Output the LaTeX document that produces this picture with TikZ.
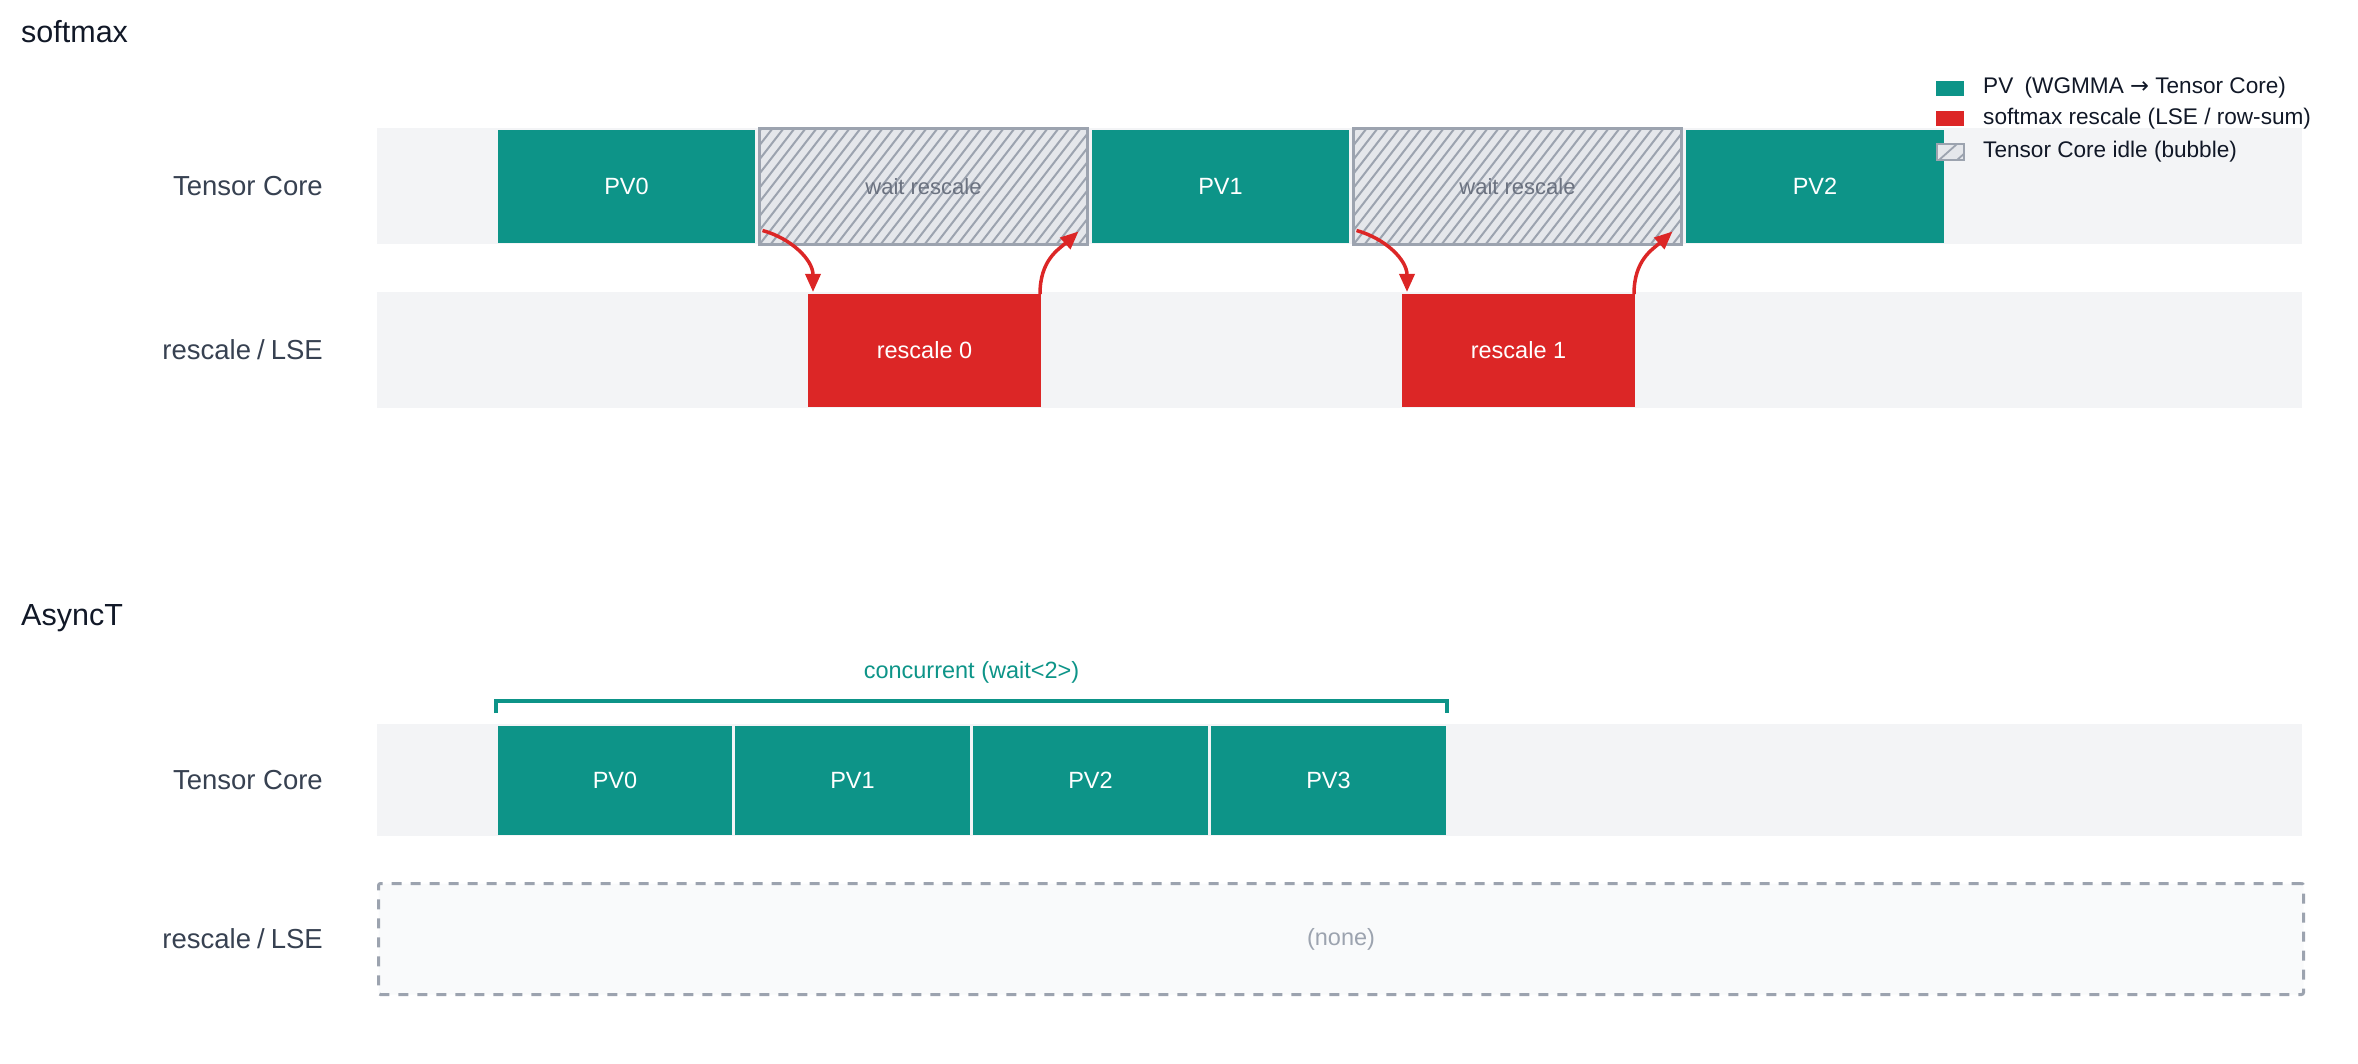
\documentclass[tikz,border=0pt]{standalone}
\usepackage{fontspec}
\setmainfont{Liberation Sans}
\newfontfamily\dejavu{DejaVu Sans}
\usetikzlibrary{calc,arrows.meta}
\definecolor{tealc}{HTML}{0D9488}
\definecolor{redc}{HTML}{DC2626}
\definecolor{rowbg}{HTML}{F3F4F6}
\definecolor{nonebg}{HTML}{F9FAFB}
\definecolor{hatchfill}{HTML}{E5E7EB}
\definecolor{hatchstroke}{HTML}{9CA3AF}
\definecolor{lblc}{HTML}{374151}
\definecolor{titlec}{HTML}{111827}
\definecolor{waitc}{HTML}{6B7280}
\begin{document}
\begin{tikzpicture}[x=1pt,y=-1pt,
  title/.style={anchor=base west, inner sep=0, text=titlec, font=\fontsize{30.5}{36}\selectfont},
  lbl/.style={anchor=east, inner sep=0, text=lblc, font=\fontsize{27.5}{33}\selectfont},
  bgrow/.style={rectangle, anchor=north west, inner sep=0, outer sep=0, fill=rowbg, minimum width=1925pt},
  blk/.style={rectangle, anchor=north west, inner sep=0, outer sep=0, text=white, font=\fontsize{23.5}{28}\selectfont},
  pvblk/.style={blk, fill=tealc},
  rsblk/.style={blk, fill=redc},
  hatched/.style={rectangle, anchor=north west, inner sep=0, outer sep=0, fill=hatchfill, draw=hatchstroke, line width=3pt,
     text=waitc, font=\fontsize{22}{26}\selectfont,
     path picture={\foreach \k in {-10,...,31}{\draw[hatchstroke, line width=2pt] ($(path picture bounding box.south west)+(\k*11,0)$) -- ++(90,-116);}}},
  flow/.style={redc, line width=3.5pt, -{Triangle[length=18pt,width=15pt]}},
  legtxt/.style={anchor=west, inner sep=0, text=titlec, font=\fontsize{22.6}{27}\selectfont},
  legsw/.style={rectangle, anchor=north west, inner sep=0, outer sep=0, minimum width=28pt, minimum height=15pt}
]
\useasboundingbox (0,0) rectangle (2358,1064);

% ---------- softmax ----------
\node[title] (t1) at (21,43) {softmax};

\node[bgrow, minimum height=116pt] (bgA) at (377,128) {};
\node[bgrow, minimum height=116pt] (bgB) at (377,292) {};
\node[lbl] (lA) at ($(bgA.west)+(-54,0)$) {Tensor Core};
\node[lbl] (lB) at ($(bgB.west)+(-54,0)$) {rescale\hspace{0.22em}/\hspace{0.22em}LSE};

\node[pvblk, minimum width=257pt, minimum height=113pt] (s0) at (498,130) {PV0};
\node[hatched, minimum width=328pt, minimum height=116pt] (w0) at (759.5,128.5) {wait rescale};
\node[pvblk, minimum width=257pt, minimum height=113pt] (s1) at (1092,130) {PV1};
\node[hatched, minimum width=328pt, minimum height=116pt] (w1) at (1353.5,128.5) {wait rescale};
\node[pvblk, minimum width=258pt, minimum height=113pt] (s2) at (1686,130) {PV2};

\node[rsblk, minimum width=233pt, minimum height=113pt] (r0) at (808,294) {rescale 0};
\node[rsblk, minimum width=233pt, minimum height=113pt] (r1) at (1402,294) {rescale 1};

\draw[flow] ($(w0.south west)+(3,-14)$) .. controls +(29,8) and +(0,-32) .. ($(r0.north west)+(5,-2)$);
\draw[flow] ($(r0.north east)+(-1,0)$) .. controls +(0,-34) and +(-20,18) .. ($(w0.south east)+(-9,-13)$);
\draw[flow] ($(w1.south west)+(3,-14)$) .. controls +(29,8) and +(0,-32) .. ($(r1.north west)+(5,-2)$);
\draw[flow] ($(r1.north east)+(-1,0)$) .. controls +(0,-34) and +(-20,18) .. ($(w1.south east)+(-9,-13)$);

% legend
\node[legsw, fill=tealc] (g1) at (1936,81) {};
\node[legsw, fill=redc] (g2) at (1936,111) {};
\node[legsw, fill=hatchfill, draw=hatchstroke, line width=2pt, minimum height=16pt, minimum width=27pt,
  path picture={\draw[hatchstroke, line width=1.8pt] ($(path picture bounding box.south west)+(2,0)$) -- ++(18,-16);
                \draw[hatchstroke, line width=1.8pt] ($(path picture bounding box.south west)+(20,0)$) -- ++(18,-16);}] (g3) at (1937,144) {};
\node[legtxt] (k1) at (1983,88) {PV\hspace{0.5em}(WGMMA {\dejavu →} Tensor Core)};
\node[legtxt] (k2) at (1983,119) {softmax rescale (LSE / row-sum)};
\node[legtxt] (k3) at (1983,152) {Tensor Core idle (bubble)};

% ---------- AsyncT ----------
\node[title] (t2) at (21,625) {AsyncT};

\node[bgrow, minimum height=112pt] (bgC) at (377,724) {};
\node[rectangle, anchor=north west, inner sep=0, outer sep=0, fill=nonebg, draw=hatchstroke, line width=3pt,
  dash pattern=on 10pt off 9pt, rounded corners=2pt, minimum width=1925pt, minimum height=111pt,
  text=hatchstroke, font=\fontsize{23.5}{28}\selectfont] (nb) at (378.5,883.5) {(none)};
\node[lbl] (lC) at ($(bgC.west)+(-54,0)$) {Tensor Core};
\node[lbl] (lD) at ($(nb.west)+(-55.5,0)$) {rescale\hspace{0.22em}/\hspace{0.22em}LSE};

\node[pvblk, minimum width=234pt, minimum height=109pt] (a0) at (498,726) {PV0};
\node[pvblk, minimum width=235pt, minimum height=109pt] (a1) at (735,726) {PV1};
\node[pvblk, minimum width=235pt, minimum height=109pt] (a2) at (973,726) {PV2};
\node[pvblk, minimum width=235pt, minimum height=109pt] (a3) at (1211,726) {PV3};

\coordinate (bl) at ($(a0.north west)+(-2,-13)$);
\coordinate (br) at ($(a3.north east)+(1,-13)$);
\draw[tealc, line width=3.5pt] (bl) -- ++(0,-12) -| (br);
\node[inner sep=0, text=tealc, font=\fontsize{23.5}{28}\selectfont] (cc) at ($(bl)!0.5!(br)+(0,-41)$) {concurrent (wait<2>)};
\end{tikzpicture}
\end{document}
